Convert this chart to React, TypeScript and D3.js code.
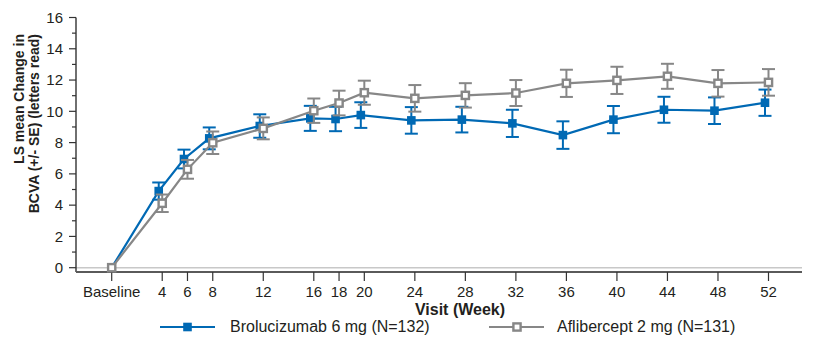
import React from "react";
import * as d3 from "d3";

const weeks = [0, 4, 6, 8, 12, 16, 18, 20, 24, 28, 32, 36, 40, 44, 48, 52];
const tickLabels = ["Baseline", "4", "6", "8", "12", "16", "18", "20", "24", "28", "32", "36", "40", "44", "48", "52"];
const broMean = [0, 4.9, 6.95, 8.27, 9.06, 9.55, 9.51, 9.76, 9.42, 9.47, 9.23, 8.48, 9.47, 10.1, 10.04, 10.55];
const broSE = [0, 0.55, 0.6, 0.7, 0.75, 0.8, 0.78, 0.82, 0.85, 0.82, 0.87, 0.88, 0.87, 0.83, 0.85, 0.84];
const afliMean = [0, 4.12, 6.29, 7.99, 8.91, 10.04, 10.53, 11.19, 10.83, 11.02, 11.17, 11.79, 11.98, 12.24, 11.79, 11.85];
const afliSE = [0, 0.56, 0.6, 0.72, 0.7, 0.78, 0.79, 0.77, 0.85, 0.78, 0.83, 0.87, 0.87, 0.8, 0.85, 0.85];
const yTicks = [0, 2, 4, 6, 8, 10, 12, 14, 16];
const yMinor = [1, 3, 5, 7, 9, 11, 13, 15];
const seriesNames = ["Brolucizumab 6 mg (N=132)", "Aflibercept 2 mg (N=131)"];

const BLUE = "#0069b4";
const GRAY = "#878787";
const TXT = "#231f20";
const FONT = "'Liberation Sans', Arial, sans-serif";

export default function App() {
  const x = d3.scaleLinear().domain([0, 52]).range([111.7, 768.5]);
  const y = d3.scaleLinear().domain([0, 16]).range([267.7, 17.5]);
  const axisY = 272;
  const axisX = 76;
  const dodge = (w: number) => (w > 0 ? -3.5 : 0);

  const broPts = weeks.map((w, i) => ({ w, m: broMean[i], se: broSE[i], px: x(w) + dodge(w) }));
  const afliPts = weeks.map((w, i) => ({ w, m: afliMean[i], se: afliSE[i], px: x(w) }));

  const line = d3
    .line<{ px: number; m: number }>()
    .x((d) => d.px)
    .y((d) => y(d.m));

  const errBars = (pts: typeof broPts, color: string) =>
    pts
      .filter((d) => d.se > 0)
      .map((d, i) => (
        <g key={i} stroke={color} strokeWidth={2} fill="none">
          <line x1={d.px} x2={d.px} y1={y(d.m - d.se)} y2={y(d.m + d.se)} />
          <line x1={d.px - 6.5} x2={d.px + 6.5} y1={y(d.m - d.se)} y2={y(d.m - d.se)} />
          <line x1={d.px - 6.5} x2={d.px + 6.5} y1={y(d.m + d.se)} y2={y(d.m + d.se)} />
        </g>
      ));

  return (
    <div style={{ position: "absolute", left: 0, top: 0 }}>
      <svg width={822} height={342} style={{ display: "block", fontFamily: FONT }}>
        <rect width={822} height={342} fill="#fff" />
        {/* zero reference line */}
        <line x1={axisX} x2={802} y1={y(0)} y2={y(0)} stroke="#c8c8c8" strokeWidth={1.5} />
        {/* y axis */}
        <line x1={axisX} x2={axisX} y1={y(16)} y2={axisY} stroke="#222" strokeWidth={1.3} />
        {yTicks.map((t) => (
          <g key={t}>
            <line x1={axisX - 7} x2={axisX} y1={y(t)} y2={y(t)} stroke="#333" strokeWidth={1.2} />
            <text x={63} y={y(t)} dy="0.35em" textAnchor="end" fontSize={15} fill={TXT}>
              {t}
            </text>
          </g>
        ))}
        {yMinor.map((t) => (
          <line key={t} x1={axisX - 4} x2={axisX} y1={y(t)} y2={y(t)} stroke="#333" strokeWidth={1.2} />
        ))}
        {/* x axis */}
        <line x1={axisX} x2={802} y1={axisY} y2={axisY} stroke="#5a5a5a" strokeWidth={1.8} />
        {weeks.map((w, i) => (
          <g key={w}>
            <line x1={x(w)} x2={x(w)} y1={axisY} y2={axisY + 9} stroke="#333" strokeWidth={1.2} />
            <text x={x(w)} y={297} textAnchor="middle" fontSize={15} fill={TXT}>
              {tickLabels[i]}
            </text>
          </g>
        ))}
        <text x={460} y={315} textAnchor="middle" fontSize={16} fontWeight="bold" fill={TXT}>
          Visit (Week)
        </text>
        <text transform="translate(24,34) rotate(-90)" textAnchor="end" fontSize={14} fontWeight="bold" fill={TXT}>
          LS mean Change in
        </text>
        <text transform="translate(39,34) rotate(-90)" textAnchor="end" fontSize={14} fontWeight="bold" fill={TXT}>
          BCVA (+/- SE) (letters read)
        </text>

        {/* Brolucizumab */}
        <path d={line(broPts) || ""} fill="none" stroke={BLUE} strokeWidth={2.2} />
        {errBars(broPts, BLUE)}
        {broPts.map((d, i) => (
          <rect key={i} x={d.px - 4.3} y={y(d.m) - 4.3} width={8.6} height={8.6} fill={BLUE} />
        ))}

        {/* Aflibercept */}
        <path d={line(afliPts) || ""} fill="none" stroke={GRAY} strokeWidth={2.2} />
        {errBars(afliPts, GRAY)}
        {afliPts.map((d, i) => (
          <rect key={i} x={d.px - 3.6} y={y(d.m) - 3.6} width={7.2} height={7.2} fill="#fff" stroke={GRAY} strokeWidth={2.4} />
        ))}

        {/* legend */}
        <line x1={160} x2={215} y1={327} y2={327} stroke={BLUE} strokeWidth={2.2} />
        <rect x={187.5 - 4.3} y={327 - 4.3} width={8.6} height={8.6} fill={BLUE} />
        <text x={230} y={332} fontSize={16} fill={TXT}>
          {seriesNames[0]}
        </text>
        <line x1={489} x2={544} y1={327} y2={327} stroke={GRAY} strokeWidth={2.2} />
        <rect x={517 - 3.6} y={327 - 3.6} width={7.2} height={7.2} fill="#fff" stroke={GRAY} strokeWidth={2.4} />
        <text x={557} y={332} fontSize={16} fill={TXT}>
          {seriesNames[1]}
        </text>
      </svg>
    </div>
  );
}
